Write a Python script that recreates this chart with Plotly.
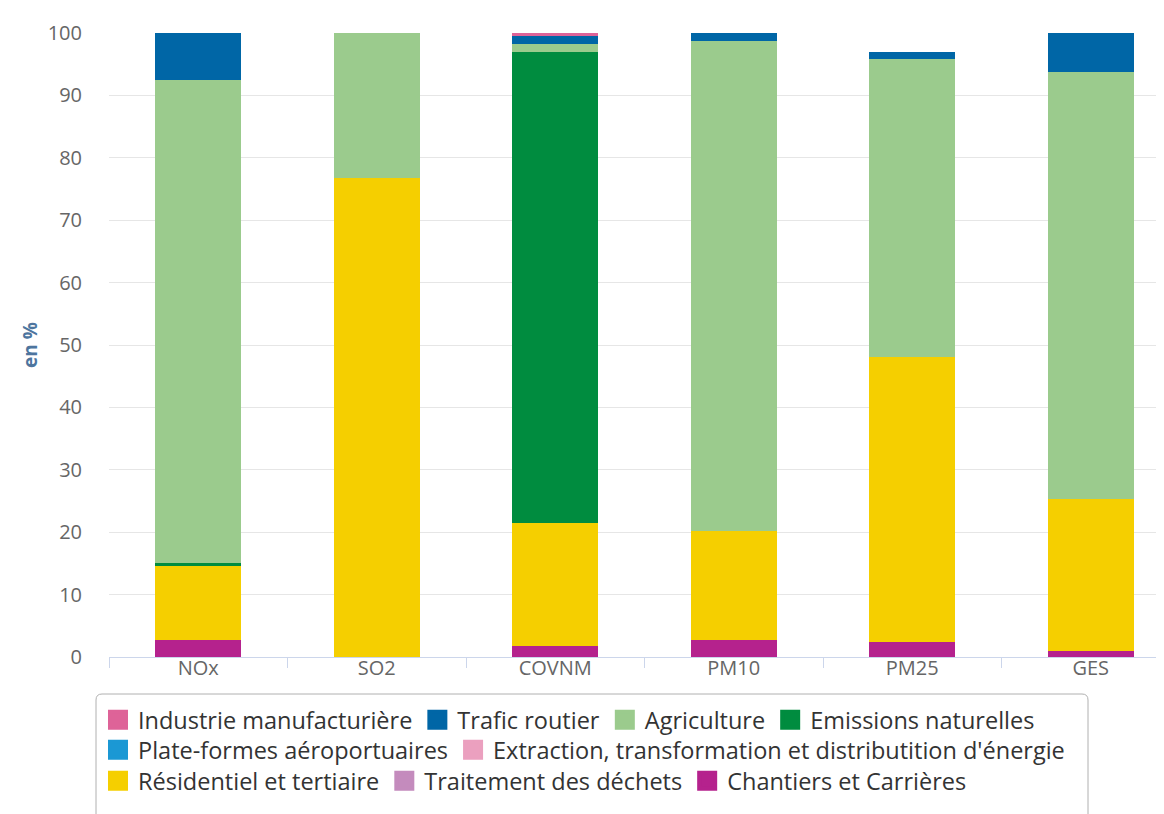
import plotly.graph_objects as go

polluants = ["NOx", "SO2", "COVNM", "PM10", "PM25", "GES"]

# parts en % par secteur (ordre de la légende)
industrie = [0, 0, 0.5, 0, 0, 0]
trafic = [7.5, 0, 1.2, 1.3, 1.1, 6.3]
agriculture = [77.5, 23.2, 1.4, 78.5, 47.8, 68.3]
emissions_nat = [0.3, 0, 75.5, 0, 0, 0]
aeroports = [0, 0, 0, 0, 0, 0]
extraction = [0, 0, 0, 0, 0, 0]
residentiel = [11.9, 76.8, 19.6, 17.4, 45.7, 24.4]
dechets = [0, 0, 0, 0, 0, 0]
chantiers = [2.8, 0, 1.8, 2.8, 2.4, 1.0]

series = [
    ("Industrie manufacturière", industrie, "#de6398"),
    ("Trafic routier", trafic, "#0066a6"),
    ("Agriculture", agriculture, "#9bcb8d"),
    ("Emissions naturelles", emissions_nat, "#008c3f"),
    ("Plate-formes aéroportuaires", aeroports, "#1b98d4"),
    ("Extraction, transformation et distributition d'énergie", extraction, "#eba0bf"),
    ("Résidentiel et tertiaire", residentiel, "#f5cf00"),
    ("Traitement des déchets", dechets, "#c48bbd"),
    ("Chantiers et Carrières", chantiers, "#b5228d"),
]
# une ligne de légende par groupe
legend_rows = ["legend"] * 4 + ["legend2"] * 2 + ["legend3"] * 3

fig = go.Figure()
# empilement du bas vers le haut
for name, vals, col in reversed(series):
    fig.add_trace(go.Bar(x=polluants, y=vals, name=name, marker_color=col,
                         marker_line_width=0, showlegend=False))
# entrées de légende (carrés plus grands que ceux des barres)
for (name, vals, col), lg in zip(series, legend_rows):
    fig.add_trace(go.Scatter(x=[None], y=[None], mode="markers", name=name,
                             marker=dict(symbol="square", size=16, color=col,
                                         line=dict(color=col, width=4)),
                             legend=lg, showlegend=True))

font = "Open Sans, DejaVu Sans, sans-serif"
W, H = 1164, 814
ML, MR, MT, MB = 101, 2, 25, 165
pw, ph = W - ML - MR, H - MT - MB


def leg(row_y):
    return dict(
        orientation="h", traceorder="normal", xref="container", yref="container",
        x=90 / W, y=(H - row_y) / H, xanchor="left", yanchor="middle",
        font=dict(size=23.5, color="#333333", family=font),
        bgcolor="rgba(0,0,0,0)", borderwidth=0,
    )


def px_x(p):
    return (p - ML) / pw


def px_y(p):
    return (H - MB - p) / ph


# cadre arrondi de la légende
x0, x1, y0, y1, r = 88, 1080, 686, 812, 6
path = (f"M {px_x(x0 + r)},{px_y(y0)} L {px_x(x1 - r)},{px_y(y0)} "
        f"Q {px_x(x1)},{px_y(y0)} {px_x(x1)},{px_y(y0 + r)} "
        f"L {px_x(x1)},{px_y(y1 - r)} Q {px_x(x1)},{px_y(y1)} {px_x(x1 - r)},{px_y(y1)} "
        f"L {px_x(x0 + r)},{px_y(y1)} Q {px_x(x0)},{px_y(y1)} {px_x(x0)},{px_y(y1 - r)} "
        f"L {px_x(x0)},{px_y(y0 + r)} Q {px_x(x0)},{px_y(y0)} {px_x(x0 + r)},{px_y(y0)} Z")

fig.update_layout(
    width=W, height=H,
    barmode="stack", bargap=0.52,
    margin=dict(l=ML, r=MR, t=MT, b=MB),
    plot_bgcolor="white", paper_bgcolor="white",
    font=dict(family=font, color="#555555"),
    legend=leg(712), legend2=leg(742), legend3=leg(773),
    shapes=[dict(type="path", xref="paper", yref="paper", path=path,
                 line=dict(color="#b0b0b0", width=1), layer="below")],
)
fig.update_xaxes(
    range=[-0.5, 5.444], automargin=False,
    showline=True, linecolor="#ccd6eb", linewidth=1,
    ticks="outside", tickson="boundaries", ticklen=10, tickcolor="#ccd6eb",
    tickfont=dict(size=20, color="#666666"),
    ticklabelstandoff=-7,
)
fig.update_yaxes(
    range=[0, 100], dtick=10, automargin=False,
    showgrid=True, gridcolor="#e6e6e6", zeroline=False,
    tickfont=dict(size=20, color="#666666"),
    ticklabelstandoff=26,
    title=dict(text="<b>en %</b>", font=dict(size=19, color="#4d759e"), standoff=5),
)

fig.write_html("out.html")
